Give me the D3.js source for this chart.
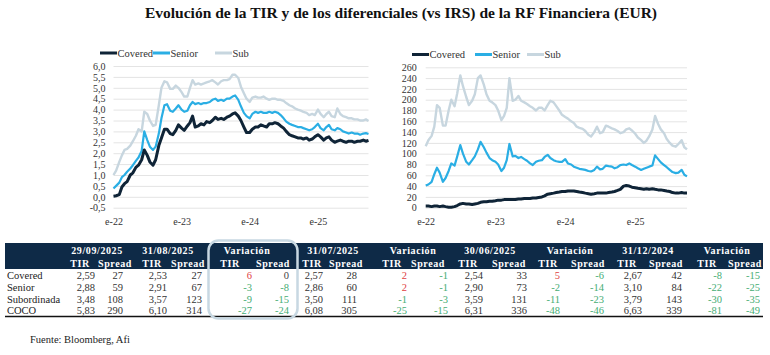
<!DOCTYPE html>
<html><head><meta charset="utf-8">
<script src="https://cdn.jsdelivr.net/npm/d3@7"></script>
<style>body{margin:0;background:#fff} svg{display:block}</style>
</head><body>
<svg id="c" width="770" height="355"></svg>
<script>
// ---------------- DATA ----------------
const dates = [
"2022-01-01","2022-01-15","2022-02-01","2022-02-15","2022-03-01","2022-03-15","2022-04-01","2022-04-15","2022-05-01","2022-05-15","2022-06-01","2022-06-15",
"2022-07-01","2022-07-15","2022-08-01","2022-08-15","2022-09-01","2022-09-15","2022-10-01","2022-10-15","2022-11-01","2022-11-15","2022-12-01","2022-12-15",
"2023-01-01","2023-01-15","2023-02-01","2023-02-15","2023-03-01","2023-03-15","2023-04-01","2023-04-15","2023-05-01","2023-05-15","2023-06-01","2023-06-15",
"2023-07-01","2023-07-15","2023-08-01","2023-08-15","2023-09-01","2023-09-15","2023-10-01","2023-10-15","2023-11-01","2023-11-15","2023-12-01","2023-12-15",
"2024-01-01","2024-01-15","2024-02-01","2024-02-15","2024-03-01","2024-03-15","2024-04-01","2024-04-15","2024-05-01","2024-05-15","2024-06-01","2024-06-15",
"2024-07-01","2024-07-15","2024-08-01","2024-08-15","2024-09-01","2024-09-15","2024-10-01","2024-10-15","2024-11-01","2024-11-15","2024-12-01","2024-12-15",
"2025-01-01","2025-01-15","2025-02-01","2025-02-15","2025-03-01","2025-03-15","2025-04-01","2025-04-15","2025-05-01","2025-05-15","2025-06-01","2025-06-15",
"2025-07-01","2025-07-15","2025-08-01","2025-08-15","2025-09-01","2025-09-15","2025-09-29"];

const seriesNames = ["Covered","Senior","Sub"];

// TIR (%)
const tirCovered = [0.03,0.05,0.1,0.45,0.6,0.7,1.0,1.1,1.35,1.45,1.7,2.15,1.9,1.6,1.45,1.7,2.35,2.7,3.1,3.1,2.9,2.85,3.05,3.3,
3.15,3.05,3.25,3.4,3.7,3.2,3.25,3.35,3.3,3.45,3.4,3.5,3.65,3.55,3.6,3.55,3.65,3.7,3.8,3.85,3.7,3.5,3.2,2.95,
2.95,3.1,3.2,3.2,3.3,3.25,3.2,3.35,3.35,3.4,3.35,3.25,3.15,3.0,2.85,2.8,2.75,2.7,2.7,2.65,2.7,2.6,2.65,2.75,
2.85,2.75,2.6,2.7,2.75,2.6,2.5,2.55,2.6,2.55,2.5,2.55,2.55,2.5,2.55,2.55,2.6,2.55,2.59];
const tirSenior = [0.38,0.5,0.65,0.9,1.0,1.15,1.3,1.45,1.65,1.8,2.1,3.0,2.6,2.3,2.15,2.3,2.9,3.6,4.2,4.25,3.95,3.9,4.05,4.2,
4.0,3.9,3.95,4.2,4.35,4.25,4.3,4.25,4.3,4.3,4.35,4.45,4.5,4.4,4.45,4.4,4.5,4.5,4.6,4.65,4.45,4.15,3.85,3.7,
3.6,3.8,3.9,3.85,3.9,3.85,3.85,3.9,3.85,3.9,3.85,3.75,3.6,3.45,3.35,3.3,3.25,3.2,3.2,3.15,3.1,3.05,3.1,3.2,
3.35,3.15,3.05,3.2,3.3,3.1,3.05,3.15,3.1,3.0,2.95,2.9,2.95,2.9,2.9,2.85,2.9,2.92,2.88];
const tirSub = [1.0,1.2,1.6,1.9,2.15,2.2,2.35,2.55,2.8,3.1,3.0,3.9,3.8,3.5,3.25,3.3,4.2,5.0,5.3,5.25,4.95,4.95,5.1,5.0,
4.8,4.6,4.6,5.0,5.35,5.15,5.2,5.15,5.2,5.25,5.3,5.35,5.25,5.15,5.3,5.35,5.35,5.4,5.6,5.6,5.45,5.05,4.75,4.5,
4.35,4.55,4.6,4.55,4.55,4.6,4.5,4.45,4.5,4.5,4.45,4.45,4.4,4.3,4.2,4.15,4.05,4.0,3.95,3.9,3.85,3.75,3.8,3.75,
4.0,3.8,3.65,3.8,3.9,3.7,3.65,4.05,3.8,3.7,3.65,3.6,3.6,3.55,3.55,3.5,3.5,3.55,3.48];

// Spread vs IRS (pb)
const sprCovered = [3,3,2,3,3,2,3,2,1,1,2,4,7,8,7,7,6,7,8,10,11,11,12,12,
13,14,14,15,15,15,15,15,16,16,17,17,17,18,18,19,20,22,25,26,27,28,29,30,
30,31,31,31,30,29,28,27,26,25,26,27,27,27,27,28,29,30,32,34,40,41,40,38,
37,36,35,34,35,34,35,34,33,33,32,31,30,28,27,27,28,27,27];
const sprSenior = [41,43,48,62,74,65,48,55,68,82,78,95,116,100,85,80,88,95,108,122,112,102,92,88,
85,80,68,74,88,118,95,96,92,94,90,87,82,79,85,87,88,94,98,92,88,86,85,85,
90,82,80,76,74,72,71,70,68,67,70,76,71,72,78,77,76,73,75,79,80,79,82,79,
76,73,70,72,74,76,78,97,90,84,79,75,70,66,64,65,70,61,58];
const sprSub = [114,125,133,150,190,185,152,152,180,200,188,212,245,225,205,190,198,210,240,245,228,210,198,195,
190,180,162,170,185,240,198,200,207,198,195,192,188,185,180,185,185,180,190,198,195,188,180,172,
168,165,160,157,150,148,146,142,135,132,140,150,138,140,152,150,147,145,142,138,140,145,147,143,
137,130,125,120,124,132,145,170,155,145,138,127,120,115,113,118,125,112,108];

const tirTicks = [-0.5,0,0.5,1,1.5,2,2.5,3,3.5,4,4.5,5,5.5,6];
const sprTicks = [0,20,40,60,80,100,120,140,160,180,200,220,240,260];
const xTickDates = ["2022-01-01","2023-01-01","2024-01-01","2025-01-01"];
const xTickLabels = ["e-22","e-23","e-24","e-25"];

// Table
const rowLabels = ["Covered","Senior","Subordinada","COCO"];
const levelDates = ["29/09/2025","31/08/2025","31/07/2025","30/06/2025","31/12/2024"];
const tirLevels = [[2.59,2.88,3.48,5.83],[2.53,2.91,3.57,6.10],[2.57,2.86,3.50,6.08],[2.54,2.90,3.59,6.31],[2.67,3.10,3.79,6.63]];
const spreadLevels = [[27,59,108,290],[27,67,123,314],[28,60,111,305],[33,73,131,336],[42,84,143,339]];
const varTir = [[6,-3,-9,-27],[2,2,-1,-25],[5,-2,-11,-48],[-8,-22,-30,-81]];
const varSpread = [[0,-8,-15,-24],[-1,-1,-3,-15],[-6,-14,-23,-46],[-15,-25,-35,-49]];

const titleText = "Evolución de la TIR y de los diferenciales (vs IRS) de la RF Financiera (EUR)";
const sourceText = "Fuente: Bloomberg, Afi";

// ---------------- DRAW ----------------
const svg = d3.select("#c");
const SERIF = "'Liberation Serif','DejaVu Serif',serif";
const colors = {Covered:"#0f2437", Senior:"#2aaee4", Sub:"#c7d6df"};
const widths = {Covered:3, Senior:2.2, Sub:2.4};
const parse = d3.utcParse("%Y-%m-%d");
const D = dates.map(parse);
const comma = f => v => f(v).replace("−","-").replace(".",",");

svg.append("text").attr("x",401).attr("y",18).attr("text-anchor","middle")
  .attr("font-family",SERIF).attr("font-weight","bold").attr("font-size",15.5).attr("fill","#111")
  .text(titleText);

function chart(cfg){
  const x = d3.scaleUtc().domain([parse("2022-01-01"), parse("2025-09-29")]).range([cfg.x0, cfg.x1]);
  const y = d3.scaleLinear().domain([cfg.ticks[0], cfg.ticks[cfg.ticks.length-1]]).range([cfg.y0, cfg.y1]);
  const g = svg.append("g");
  const ya = g.append("g").attr("transform",`translate(${cfg.x0},0)`)
    .call(d3.axisLeft(y).tickValues(cfg.ticks).tickSize(-(cfg.x1-cfg.x0)).tickPadding(cfg.pad).tickFormat(cfg.fmt));
  ya.select(".domain").remove();
  ya.selectAll("line").attr("stroke","#e4e4e4");
  ya.selectAll("text").attr("font-family",SERIF).attr("font-size",10).attr("fill","#333");
  const xa = g.append("g").attr("transform",`translate(0,${cfg.y0})`)
    .call(d3.axisBottom(x).tickValues(xTickDates.map(parse)).tickSize(0).tickPadding(10)
      .tickFormat((d,i)=>xTickLabels[i]));
  xa.select(".domain").remove();
  xa.selectAll("text").attr("font-family",SERIF).attr("font-size",10).attr("fill","#333");
  const line = d3.line().x((d,i)=>x(D[i])).y(d=>y(d)).curve(d3.curveLinear);
  ["Sub","Senior","Covered"].forEach(n=>{
    g.append("path").datum(cfg.data[n]).attr("d",line).attr("fill","none")
      .attr("stroke",colors[n]).attr("stroke-width",widths[n]).attr("stroke-linejoin","round");
  });
  // legend
  seriesNames.forEach((n,i)=>{
    const lx = cfg.leg[i];
    g.append("line").attr("x1",lx).attr("x2",lx+17).attr("y1",cfg.legY).attr("y2",cfg.legY)
      .attr("stroke",colors[n]).attr("stroke-width",3);
    g.append("text").attr("x",lx+17.5).attr("y",cfg.legY+3.5).attr("font-family",SERIF)
      .attr("font-size",10.5).attr("fill","#333").text(n);
  });
}

chart({x0:113.5,x1:368.5,y0:207.7,y1:66,ticks:tirTicks,pad:8,fmt:comma(d3.format(".1f")),
  data:{Covered:tirCovered,Senior:tirSenior,Sub:tirSub},leg:[100,153,215],legY:53});
chart({x0:425.7,x1:687,y0:207.7,y1:67.3,ticks:sprTicks,pad:9,fmt:d3.format("d"),
  data:{Covered:sprCovered,Senior:sprSenior,Sub:sprSub},leg:[412,475,527],legY:54.5});

// ---------------- TABLE ----------------
const navy = "#0e2a47";
const red = "#e0403f", green = "#46ad74";
svg.append("rect").attr("x",5).attr("y",243).attr("width",758).attr("height",26).attr("fill",navy);
svg.append("line").attr("x1",5).attr("x2",763).attr("y1",316.5).attr("y2",316.5).attr("stroke","#111").attr("stroke-width",1.5);

const cols = [
 {t:"L",k:0,c:97, th:80, sh:115, tr:95, sr:123},
 {t:"L",k:1,c:168,th:152,sh:188, tr:167,sr:202},
 {t:"V",k:0,c:247,th:230,sh:273, tr:252,sr:289},
 {t:"L",k:2,c:333,th:312,sh:346, tr:323,sr:357},
 {t:"V",k:1,c:413,th:392,sh:428, tr:407,sr:448},
 {t:"L",k:3,c:490,th:468,sh:509, tr:483,sr:527},
 {t:"V",k:2,c:570,th:548,sh:588, tr:560,sr:604},
 {t:"L",k:4,c:648,th:627,sh:666, tr:642,sr:682},
 {t:"V",k:3,c:727,th:707,sh:745, tr:722,sr:760}
];
const rowY = [278.5,290.5,302.5,314];
const hdr = (x,y,t)=>svg.append("text").attr("x",x).attr("y",y).attr("text-anchor","middle")
  .attr("font-family",SERIF).attr("font-weight","bold").attr("font-size",10).attr("letter-spacing",0.6)
  .attr("fill","#fff").text(t);
const cell = (x,y,t,fill)=>svg.append("text").attr("x",x).attr("y",y).attr("text-anchor","end")
  .attr("font-family",SERIF).attr("font-size",10.5).attr("fill",fill).text(t);
const f2 = comma(d3.format(".2f"));
const vcol = v => v>0?red:(v<0?green:"#444");
cols.forEach(c=>{
  hdr(c.c,254,c.t==="L"?levelDates[c.k]:"Variación");
  hdr(c.th,266.5,"TIR");
  hdr(c.sh,266.5,"Spread");
  rowLabels.forEach((r,i)=>{
    if(c.t==="L"){
      cell(c.tr,rowY[i],f2(tirLevels[c.k][i]),"#333");
      cell(c.sr,rowY[i],spreadLevels[c.k][i],"#333");
    } else {
      const a=varTir[c.k][i], b=varSpread[c.k][i];
      cell(c.tr,rowY[i],a,vcol(a));
      cell(c.sr,rowY[i],b,vcol(b));
    }
  });
});
rowLabels.forEach((r,i)=>svg.append("text").attr("x",7).attr("y",rowY[i]).attr("font-family",SERIF)
  .attr("font-size",10.5).attr("fill","#222").text(r));
svg.append("rect").attr("x",208.5).attr("y",240.5).attr("width",89).attr("height",78).attr("rx",10)
  .attr("fill","none").attr("stroke","#c8d8e2").attr("stroke-width",2.5);

svg.append("text").attr("x",30).attr("y",343).attr("font-family",SERIF).attr("font-size",10.5)
  .attr("fill","#222").text(sourceText);
</script>
</body></html>
